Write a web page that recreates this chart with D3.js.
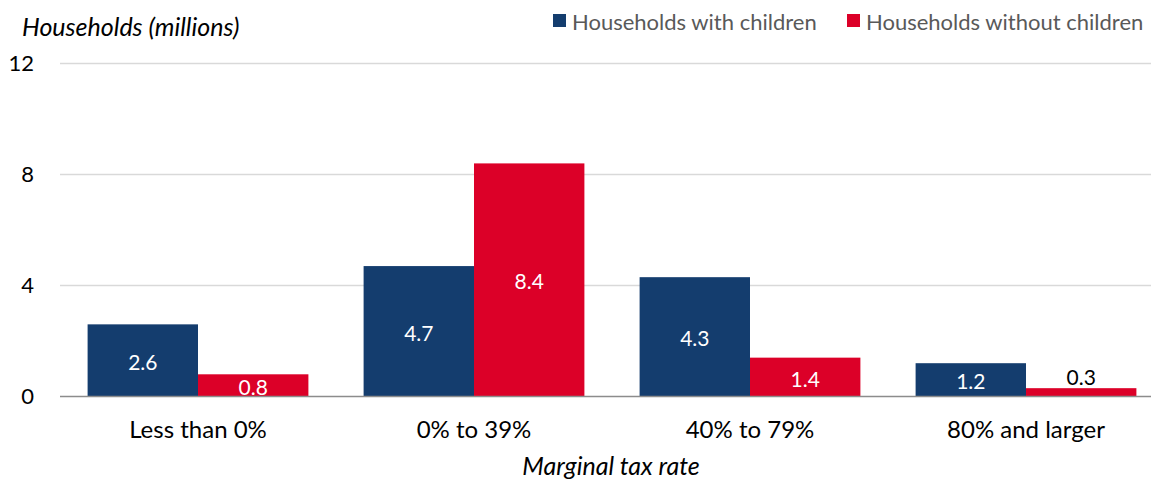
<!DOCTYPE html>
<html>
<head>
<meta charset="utf-8">
<script src="https://cdn.jsdelivr.net/npm/d3@7"></script>
<style>
  body { margin: 0; background: #fff; }
  svg { font-family: Lato, "Open Sans", sans-serif; }
</style>
</head>
<body>
<svg id="drawing_region"></svg>
<script>
const categories = ["Less than 0%", "0% to 39%", "40% to 79%", "80% and larger"];
const series_names = ["Households with children", "Households without children"];
const with_children = [2.6, 4.7, 4.3, 1.2];
const without_children = [0.8, 8.4, 1.4, 0.3];
const y_ticks = [0, 4, 8, 12];
const colors = ["#143d6e", "#dc0028"];

const width = 1151, height = 481;
const margin = {top: 63.5, right: -13, bottom: 84.5, left: 60};

const svg = d3.select('#drawing_region')
    .attr('width', width)
    .attr('height', height);

const inner_width = width - margin.left - margin.right;
const inner_height = height - margin.top - margin.bottom;

const chart = svg.append('g')
    .attr('transform', `translate(${margin.left}, ${margin.top})`);

const xscale = d3.scaleBand()
    .domain(categories)
    .range([0, inner_width])
    .paddingInner(0.2)
    .paddingOuter(0.1);

const subscale = d3.scaleBand()
    .domain(series_names)
    .range([0, xscale.bandwidth()]);

const yscale = d3.scaleLinear()
    .domain([0, 12])
    .range([inner_height, 0]);

// gridlines
chart.selectAll('.grid')
    .data(y_ticks.filter(d => d > 0))
    .enter()
    .append('line')
    .attr('x1', 0)
    .attr('x2', inner_width)
    .attr('y1', d => yscale(d))
    .attr('y2', d => yscale(d))
    .attr('stroke', '#d9d9d9')
    .attr('stroke-width', 1.5);

// y axis labels
const yaxis = d3.axisLeft(yscale).tickValues(y_ticks).tickSize(0).tickPadding(26);
chart.append('g')
    .call(yaxis)
    .call(g => g.select('.domain').remove())
    .selectAll('text')
    .attr('font-family', 'Lato, sans-serif')
    .attr('font-size', '22px')
    .attr('fill', '#000');

const rows = categories.map((c, i) => [
    {cat: c, key: series_names[0], value: with_children[i], color: colors[0]},
    {cat: c, key: series_names[1], value: without_children[i], color: colors[1]}
]);

const groups = chart.selectAll('.cat')
    .data(rows)
    .enter()
    .append('g')
    .attr('transform', d => `translate(${xscale(d[0].cat)}, 0)`);

groups.selectAll('rect')
    .data(d => d)
    .enter()
    .append('rect')
    .attr('x', d => subscale(d.key))
    .attr('y', d => yscale(d.value))
    .attr('width', subscale.bandwidth())
    .attr('height', d => inner_height - yscale(d.value))
    .attr('fill', d => d.color);

groups.selectAll('.val')
    .data(d => d)
    .enter()
    .append('text')
    .attr('x', d => subscale(d.key) + subscale.bandwidth() / 2)
    .attr('y', d => {
        const h = inner_height - yscale(d.value);
        return h < 15 ? yscale(d.value) - 12 : yscale(d.value) + h / 2 + 1;
    })
    .attr('text-anchor', 'middle')
    .attr('dominant-baseline', 'central')
    .attr('font-size', '21px')
    .attr('fill', d => (inner_height - yscale(d.value)) < 15 ? '#000' : '#fff')
    .text(d => d.value.toFixed(1));

// baseline
chart.append('line')
    .attr('x1', 0)
    .attr('x2', inner_width)
    .attr('y1', inner_height)
    .attr('y2', inner_height)
    .attr('stroke', '#8c8c8c')
    .attr('stroke-width', 1.5);

// x axis labels
const xaxis = d3.axisBottom(xscale).tickSize(0).tickPadding(24);
chart.append('g')
    .attr('transform', `translate(0, ${inner_height})`)
    .call(xaxis)
    .call(g => g.select('.domain').remove())
    .selectAll('text')
    .attr('font-family', 'Lato, sans-serif')
    .attr('font-size', '24px')
    .attr('fill', '#000');

// axis titles
svg.append('text')
    .attr('x', 22)
    .attr('y', 36)
    .attr('font-size', '25px')
    .attr('font-style', 'italic')
    .attr('fill', '#000')
    .text('Households (millions)');

svg.append('text')
    .attr('x', 611)
    .attr('y', 475)
    .attr('text-anchor', 'middle')
    .attr('font-size', '25px')
    .attr('font-style', 'italic')
    .attr('fill', '#000')
    .text('Marginal tax rate');

// legend
const legend_x = [553, 847];
const legend = svg.selectAll('.legend')
    .data(series_names)
    .enter()
    .append('g')
    .attr('transform', (d, i) => `translate(${legend_x[i]}, 14)`);

legend.append('rect')
    .attr('width', 13)
    .attr('height', 13)
    .attr('fill', (d, i) => colors[i]);

legend.append('text')
    .attr('x', 19)
    .attr('y', 7)
    .attr('dominant-baseline', 'central')
    .attr('font-size', '22px')
    .attr('fill', '#595959')
    .text(d => d);
</script>
</body>
</html>
